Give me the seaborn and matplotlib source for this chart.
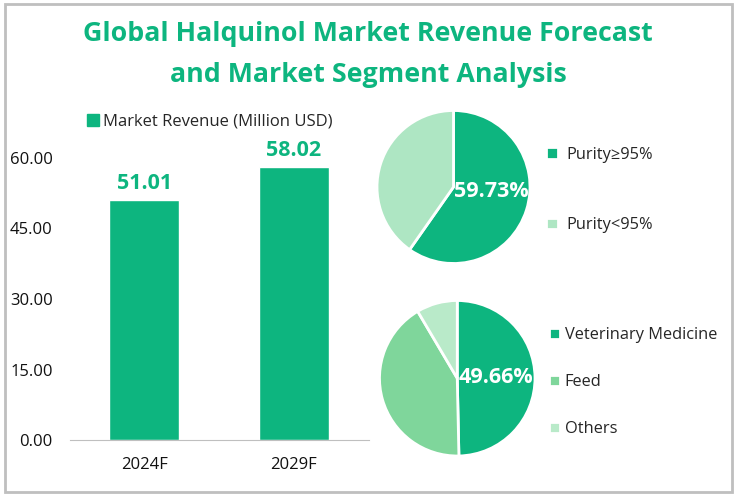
#Global halquinol market revenue and segments
import numpy as np
import pandas as pd
import matplotlib.pyplot as plt
import seaborn as sns

# The values

years = ["2024F", "2029F"]
revenue = [51.01, 58.02]
yticks = [0, 15, 30, 45, 60]

purity_labels = ["Purity≥95%", "Purity<95%"]
purity_share = [59.73, 40.27]
purity_colors = ["#0DB57F", "#AEE6C3"]

use_labels = ["Veterinary Medicine", "Feed", "Others"]
use_share = [49.66, 41.84, 8.50]
use_colors = ["#0DB57F", "#7FD69B", "#B9EAC9"]

W = 735
H = 497

sns.set_style("white")
plt.rcParams['font.family'] = ['Open Sans', 'DejaVu Sans']

def box(x0, y0, x1, y1):
    return [x0/W, 1-y1/H, (x1-x0)/W, (y1-y0)/H]

fig = plt.figure(figsize=(W/100, H/100), dpi=100)

# grey frame round the whole picture
fig.add_artist(plt.Rectangle((4.5/W, 1-491.5/H), 727/W, 488/H, fill=False, edgecolor="#BFBFBF", linewidth=2))

fig.text(368/W, 1-34/H, "Global Halquinol Market Revenue Forecast", ha="center", va="center",
         fontsize=19.3, fontweight="bold", color="#0DB57F")
fig.text(368/W, 1-75/H, "and Market Segment Analysis", ha="center", va="center",
         fontsize=19.3, fontweight="bold", color="#0DB57F")

# bars
plt.axes(box(69.5, 158, 368.5, 440))
df = pd.DataFrame({"year": years, "revenue": revenue})
sns.barplot(data=df, x="year", y="revenue", color="#0DB57F", saturation=1, width=0.47)
plt.ylim(0, 60)
plt.xlim(-0.5, 1.5)
plt.xlabel("")
plt.ylabel("")
plt.yticks(yticks, ["%.2f" % t for t in yticks], fontsize=12, color="#111111")
plt.xticks(fontsize=12, color="#111111")
plt.tick_params(axis="y", pad=12, length=0)
plt.tick_params(axis="x", pad=12, length=0)
sns.despine(left=True)
plt.gca().spines["bottom"].set_color("#BFBFBF")
for i in range(0, len(revenue)):
    plt.text(i, revenue[i]+1.3, "%.2f" % revenue[i], ha="center", va="bottom",
             fontsize=15.5, fontweight="bold", color="#0DB57F")
plt.legend(handles=[plt.Rectangle((0, 0), 1, 1, color="#0DB57F")], labels=["Market Revenue (Million USD)"],
           loc="center", bbox_to_anchor=((210-69.5)/299, (440-122)/282), frameon=False, fontsize=12,
           handlelength=0.7, handleheight=0.7, handletextpad=0.25)

# purity pie
plt.axes(box(377, 110.5, 530, 263.5))
wedges, _ = plt.pie(purity_share, colors=purity_colors, startangle=90, counterclock=False, radius=1,
                    wedgeprops={"edgecolor": "white", "linewidth": 2})
plt.xlim(-1, 1)
plt.ylim(-1, 1)
plt.text(0.5, -0.06, "59.73%", ha="center", va="center", fontsize=15.5, fontweight="bold", color="white")
plt.legend(wedges, purity_labels, loc="center left", bbox_to_anchor=(1.01, 0.48), frameon=False, fontsize=11.8,
           handlelength=0.7, handleheight=0.7, handletextpad=0.5, labelspacing=3.33)

# segment pie
plt.axes(box(379.5, 300.5, 535, 456))
wedges, _ = plt.pie(use_share, colors=use_colors, startangle=90, counterclock=False, radius=1,
                    wedgeprops={"edgecolor": "white", "linewidth": 2})
plt.xlim(-1, 1)
plt.ylim(-1, 1)
plt.text(0.5, 0.01, "49.66%", ha="center", va="center", fontsize=15.5, fontweight="bold", color="white")
plt.legend(wedges, use_labels, loc="center left", bbox_to_anchor=(0.995, 0.474), frameon=False, fontsize=11.8,
           handlelength=0.7, handleheight=0.7, handletextpad=0.25, labelspacing=1.9)

plt.savefig("out.png", dpi=100)
